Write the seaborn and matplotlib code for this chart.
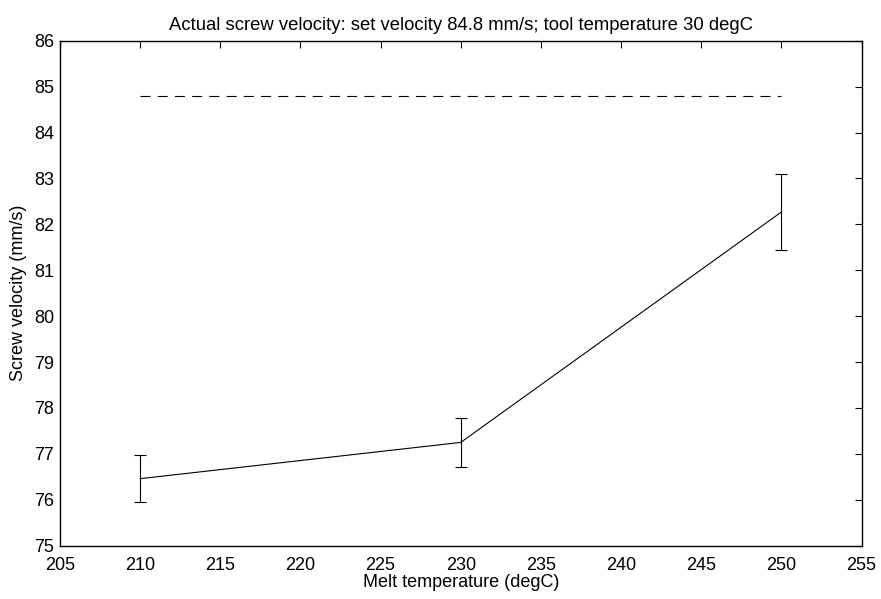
import numpy as np
import pandas as pd
import matplotlib
matplotlib.use("Agg")
import matplotlib.pyplot as plt
import seaborn as sns

# Data
melt_temp = [210, 230, 250]
velocity = [76.46, 77.25, 82.27]
velocity_err = [0.51, 0.54, 0.82]
set_velocity = 84.8

sns.set_style("white")
plt.rcParams["font.family"] = ["Liberation Sans", "DejaVu Sans"]
plt.rcParams["xtick.direction"] = "in"
plt.rcParams["ytick.direction"] = "in"
plt.rcParams["text.color"] = "black"
plt.rcParams["axes.labelcolor"] = "black"
plt.rcParams["xtick.color"] = "black"
plt.rcParams["ytick.color"] = "black"

df = pd.DataFrame({"melt": melt_temp, "vel": velocity, "err": velocity_err})

fig = plt.figure(figsize=(8.81, 5.99), dpi=100)
ax = fig.add_axes([0.068, 0.089, 0.910, 0.843])

sns.lineplot(data=df, x="melt", y="vel", color="black", linewidth=0.8, ax=ax)
ax.errorbar(df["melt"], df["vel"], yerr=df["err"], fmt="none", ecolor="black",
            elinewidth=0.8, capsize=4.5, capthick=0.8)
# set velocity reference line
sns.lineplot(x=[melt_temp[0], melt_temp[-1]], y=[set_velocity, set_velocity],
             color="black", linewidth=0.8, linestyle=(0, (9, 6.5)), ax=ax)

ax.set_xlim(205, 255)
ax.set_ylim(75, 86)
ax.set_xticks(np.arange(205, 256, 5))
ax.set_yticks(np.arange(75, 87, 1))
ax.tick_params(labelsize=13, length=5, width=0.8, top=True, right=True)
ax.tick_params(axis="x", pad=8)
ax.tick_params(axis="y", pad=4)
for s in ax.spines.values():
    s.set_linewidth(1.0)
    s.set_color("black")

ax.set_title("Actual screw velocity: set velocity 84.8 mm/s; tool temperature 30 degC",
             fontsize=13.3, pad=8)
ax.set_xlabel("Melt temperature (degC)", fontsize=13, labelpad=0)
ax.set_ylabel("Screw velocity (mm/s)", fontsize=13, labelpad=5)

fig.savefig("out.png", dpi=100)
